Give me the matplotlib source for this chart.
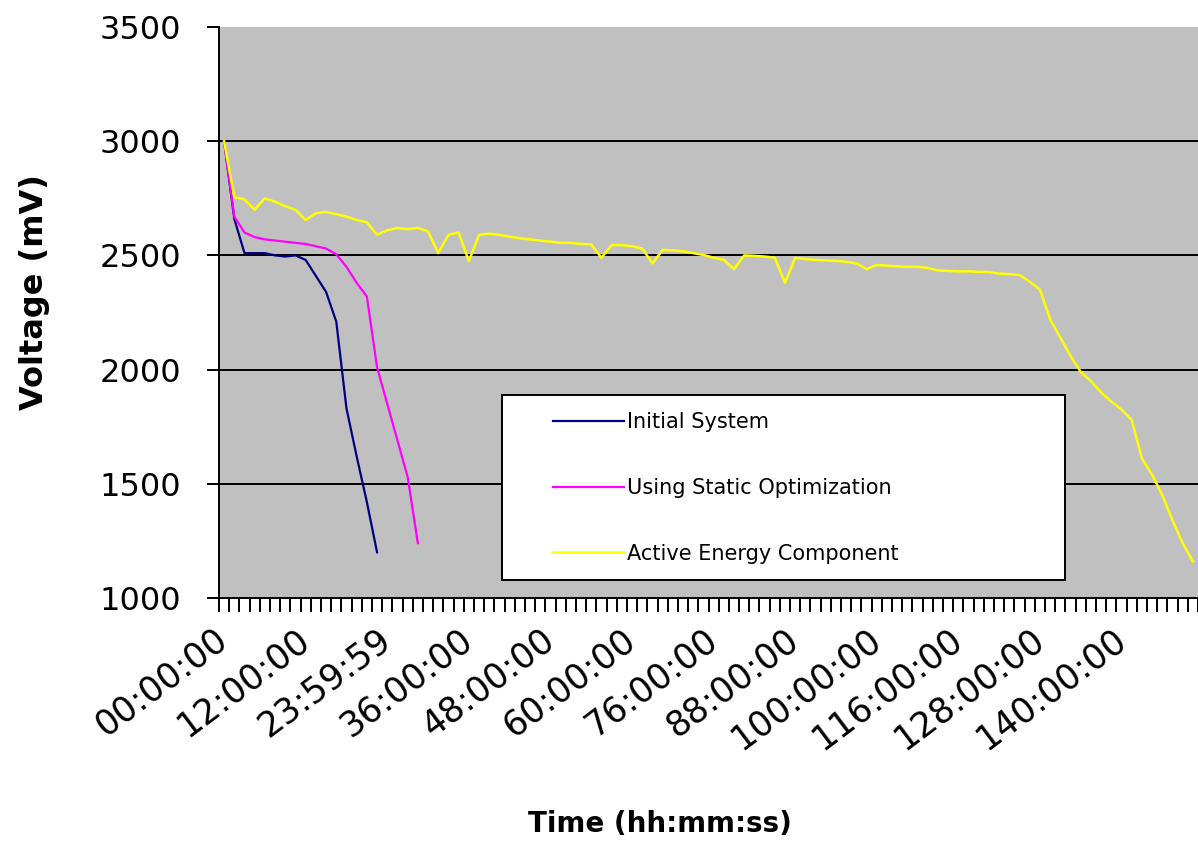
import numpy as np
import matplotlib
matplotlib.use("Agg")
import matplotlib.pyplot as plt
from matplotlib.patches import Rectangle

# values (mV), one point per time category
initial = [3000, 2660, 2510, 2510, 2510, 2500, 2495, 2500, 2480, 2410,
           2340, 2210, 1830, 1620, 1420, 1200]
static_opt = [3000, 2670, 2600, 2580, 2570, 2565, 2560, 2555, 2550, 2540,
              2530, 2505, 2450, 2380, 2320, 2010, 1850, 1690, 1530, 1240]
active = [3000, 2755, 2745, 2700, 2750, 2735, 2715, 2700, 2655, 2685,
          2690, 2680, 2670, 2655, 2645, 2590, 2610, 2620, 2615, 2620,
          2605, 2510, 2590, 2600, 2475, 2590, 2595, 2590, 2582, 2575,
          2570, 2565, 2560, 2555, 2555, 2550, 2548, 2490, 2545, 2545,
          2540, 2530, 2465, 2524, 2522, 2518, 2510, 2502, 2490, 2480,
          2440, 2500, 2498, 2495, 2490, 2380, 2489, 2484, 2480, 2478,
          2476, 2472, 2465, 2440, 2458, 2455, 2452, 2450, 2450, 2445,
          2434, 2432, 2430, 2430, 2428, 2427, 2420, 2418, 2414, 2385,
          2350, 2220, 2140, 2060, 1990, 1950, 1900, 1860, 1825, 1780,
          1610, 1540, 1450, 1340, 1240, 1160]

tick_labels = ["00:00:00", "12:00:00", "23:59:59", "36:00:00", "48:00:00",
               "60:00:00", "76:00:00", "88:00:00", "100:00:00", "116:00:00",
               "128:00:00", "140:00:00"]
label_step = 8
n_cat = 96

plt.rcParams['font.family'] = ['DejaVu Sans']

W, H = 1198, 866
fig = plt.figure(figsize=(W / 100, H / 100), dpi=100)
ax = fig.add_axes([219 / W, 1 - 598 / H, 1 - 219 / W, (598 - 27) / H])
ax.set_facecolor('#C0C0C0')

ax.plot(np.arange(len(initial)), initial, color='#000080', lw=1.6,
        label='Initial System', zorder=3)
ax.plot(np.arange(len(static_opt)), static_opt, color='#FF00FF', lw=1.6,
        label='Using Static Optimization', zorder=3)
ax.plot(np.arange(len(active)), active, color='#FFFF00', lw=1.8,
        label='Active Energy Component', zorder=3)

ax.set_ylim(1000, 3500)
ax.set_yticks(np.arange(1000, 3501, 500))
ax.set_xlim(-0.5, -0.5 + (W - 219) / 10.33)

for yv in [1500, 2000, 2500, 3000]:
    ax.axhline(yv, color='black', lw=1.4, zorder=1)

ax.spines['top'].set_visible(False)
ax.spines['right'].set_visible(False)
ax.spines['left'].set_linewidth(1.4)
ax.spines['bottom'].set_linewidth(1.4)

ax.set_xticks(np.arange(len(tick_labels)) * label_step)
ax.set_xticks(np.arange(-0.5, n_cat, 1), minor=True)
ax.set_xticklabels(tick_labels, rotation=37, ha='right', va='center',
                   rotation_mode='anchor', fontsize=25)
ax.tick_params(axis='x', which='major', length=0, pad=27)
ax.tick_params(axis='x', which='minor', length=10, width=1.4, direction='out')
ax.tick_params(axis='y', length=9, width=1.4, pad=18, labelsize=23)

fig.text(35 / W, 1 - 292 / H, 'Voltage (mV)', rotation=90, fontsize=23,
         fontweight='bold', ha='center', va='center')
fig.text(660 / W, 1 - 824 / H, 'Time (hh:mm:ss)', fontsize=20,
         fontweight='bold', ha='center', va='center')

box = Rectangle((502 / W, 1 - 580 / H), (1065 - 502) / W, (580 - 395) / H,
                transform=fig.transFigure, facecolor='white',
                edgecolor='black', lw=1.4, zorder=5)
fig.patches.append(box)
leg = fig.legend(loc='upper left', bbox_to_anchor=(553 / W, 1 - 412 / H),
                 frameon=False, fontsize=15, handlelength=3.4,
                 handletextpad=0.15, labelspacing=2.2, borderpad=0,
                 borderaxespad=0)
leg.set_zorder(6)

fig.savefig('out.png', dpi=100)
